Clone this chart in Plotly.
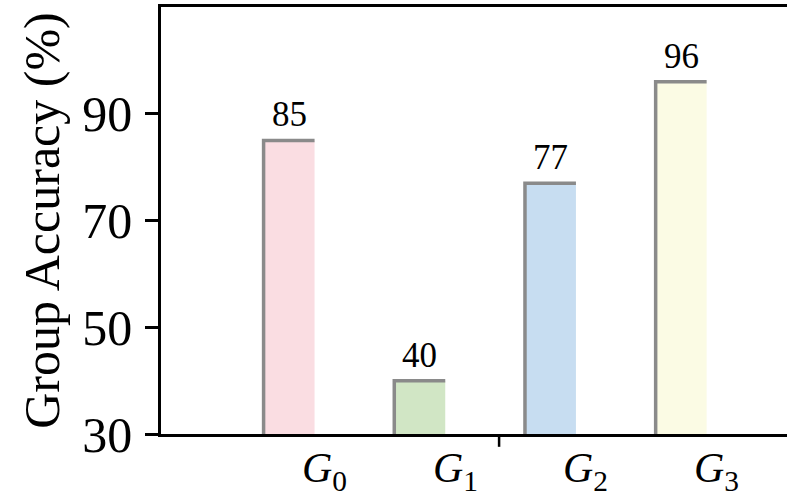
import plotly.graph_objects as go

groups = ["G0", "G1", "G2", "G3"]
tick_labels = ["<i>G</i><sub>0</sub>", "<i>G</i><sub>1</sub>", "<i>G</i><sub>2</sub>", "<i>G</i><sub>3</sub>"]
accuracy = [85, 40, 77, 96]
colors = ["#FADDE2", "#D1E6C5", "#C7DDF1", "#FBFBE4"]
y_ticks = [30, 50, 70, 90]

base = 30
width = 0.39
xpos = list(range(len(groups)))
label_offset = 0.27

fig = go.Figure()
fig.add_trace(go.Bar(
    x=xpos, y=[v - base for v in accuracy], base=base, width=width,
    marker=dict(color=colors, line=dict(width=0)),
    showlegend=False, hoverinfo="skip",
))

# gray left + top edge of each bar
for x, v in zip(xpos, accuracy):
    fig.add_trace(go.Scatter(
        x=[x - width / 2, x - width / 2, x + width / 2],
        y=[base, v, v],
        mode="lines", line=dict(color="#8a8a8a", width=3.5),
        showlegend=False, hoverinfo="skip",
    ))

for x, v in zip(xpos, accuracy):
    fig.add_annotation(x=x, y=v, text=str(v), showarrow=False,
                       yanchor="bottom", yshift=4,
                       font=dict(family="Liberation Serif", size=35, color="black"))

# group labels under the axis
for x, t in zip(xpos, tick_labels):
    fig.add_annotation(x=x + label_offset, xref="x", y=0, yref="paper", text=t,
                       showarrow=False, yanchor="top", yshift=-9,
                       font=dict(family="Liberation Serif", size=42, color="black"))

# single small tick on the x axis
fig.add_shape(type="line", xref="x", yref="paper", x0=1.607, x1=1.607, y0=0, y1=-0.03,
              line=dict(color="black", width=2.5))

fig.update_layout(
    width=787, height=502,
    margin=dict(l=161, r=0, t=7, b=68),
    plot_bgcolor="white", paper_bgcolor="white",
    xaxis=dict(
        range=[-0.98, 3.81],
        showticklabels=False, ticks="", showgrid=False, zeroline=False,
        showline=True, linecolor="black", linewidth=2.5, mirror=True,
    ),
    yaxis=dict(
        range=[30, 110], tickvals=y_ticks,
        ticks="outside", ticklen=13, tickwidth=2.5, tickcolor="black",
        ticklabelstandoff=3,
        showgrid=False, zeroline=False,
        showline=True, linecolor="black", linewidth=2.5,
        tickfont=dict(family="Liberation Serif", size=50, color="black"),
        title=dict(text="Group Accuracy (%)", standoff=7,
                   font=dict(family="Liberation Serif", size=50, color="black")),
    ),
)

fig.write_html("out.html", post_script="document.body.style.margin='0';",
               config={"displayModeBar": False})
